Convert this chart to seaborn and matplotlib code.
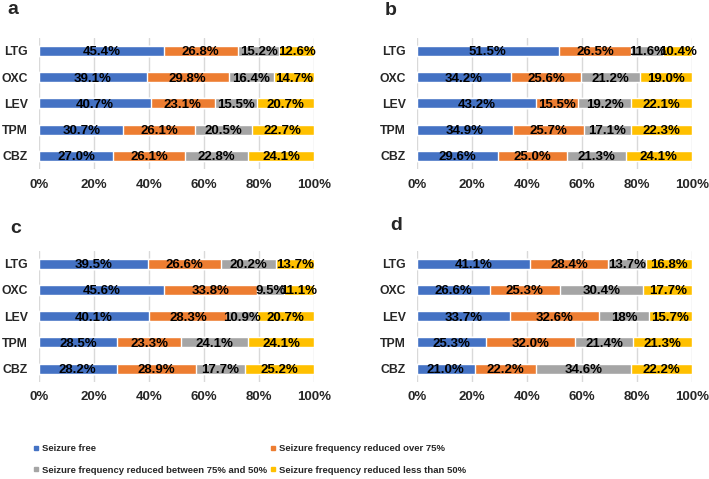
import pandas as pd
import matplotlib.pyplot as plt
import seaborn as sns
from matplotlib.lines import Line2D

drugs = ['LTG', 'OXC', 'LEV', 'TPM', 'CBZ']
categories = ['Seizure free',
              'Seizure frequency reduced over 75%',
              'Seizure frequency reduced between 75% and 50%',
              'Seizure frequency reduced less than 50%']
colors = ['#4472C4', '#ED7D31', '#A5A5A5', '#FFC000']
x_ticks = [0, 20, 40, 60, 80, 100]

# values per drug: [free, >75%, 75-50%, <50%]
panel_a = [[45.4, 26.8, 15.2, 12.6],
           [39.1, 29.8, 16.4, 14.7],
           [40.7, 23.1, 15.5, 20.7],
           [30.7, 26.1, 20.5, 22.7],
           [27.0, 26.1, 22.8, 24.1]]
panel_b = [[51.5, 26.5, 11.6, 10.4],
           [34.2, 25.6, 21.2, 19.0],
           [43.2, 15.5, 19.2, 22.1],
           [34.9, 25.7, 17.1, 22.3],
           [29.6, 25.0, 21.3, 24.1]]
panel_c = [[39.5, 26.6, 20.2, 13.7],
           [45.6, 33.8, 9.5, 11.1],
           [40.1, 28.3, 10.9, 20.7],
           [28.5, 23.3, 24.1, 24.1],
           [28.2, 28.9, 17.7, 25.2]]
panel_d = [[41.1, 28.4, 13.7, 16.8],
           [26.6, 25.3, 30.4, 17.7],
           [33.7, 32.6, 18, 15.7],
           [25.3, 32.0, 21.4, 21.3],
           [21.0, 22.2, 34.6, 22.2]]

sns.set_style('white')
plt.rcParams['font.family'] = ['Liberation Sans', 'DejaVu Sans']
plt.rcParams['font.weight'] = 'bold'


def draw_panel(ax, values):
    rows = []
    for drug, vals in zip(drugs, values):
        start = 0
        for k, v in enumerate(vals):
            rows.append({'drug': drug, 'cat': k, 'value': v, 'label': f'{v}%',
                         'end': start + v, 'mid': start + v / 2})
            start += v
    df = pd.DataFrame(rows)

    # stacked bars: draw cumulative totals from the last segment backwards
    for k in reversed(range(4)):
        sub = df[df['cat'] == k]
        sns.barplot(data=sub, x='end', y='drug', order=drugs, orient='h',
                    color=colors[k], saturation=1, width=0.38, ax=ax, zorder=2)

    for _, r in df.iterrows():
        ax.text(r['mid'], drugs.index(r['drug']), r['label'],
                ha='center', va='center_baseline', fontsize=9.5,
                fontweight='bold', color='black', zorder=3)

    ax.set_xlim(0, 100)
    ax.set_ylim(4.5, -0.5)
    ax.set_xticks(x_ticks)
    ax.set_xticklabels([f'{t}%' for t in x_ticks])
    ax.set_xlabel('')
    ax.set_ylabel('')
    ax.grid(axis='x', color='#D9D9D9', linewidth=1, zorder=0)
    ax.grid(axis='y', visible=False)
    ax.set_axisbelow(True)
    for s in ax.spines.values():
        s.set_visible(False)
    ax.tick_params(axis='x', length=0, pad=7, labelsize=9.5)
    ax.tick_params(axis='y', length=0, pad=8, labelsize=8.8)
    for lbl in ax.get_xticklabels() + ax.get_yticklabels():
        lbl.set_fontweight('bold')


fig = plt.figure(figsize=(7.09, 4.79), dpi=100)
w, h = 0.388, 0.274
positions = {'a': [0.055, 0.647, w, h], 'b': [0.588, 0.647, w, h],
             'c': [0.055, 0.203, w, h], 'd': [0.588, 0.203, w, h]}
data = {'a': panel_a, 'b': panel_b, 'c': panel_c, 'd': panel_d}
letter_pos = {'a': (0.010, 0.971), 'b': (0.543, 0.969),
              'c': (0.015, 0.514), 'd': (0.550, 0.520)}

for key in ['a', 'b', 'c', 'd']:
    ax = fig.add_axes(positions[key])
    draw_panel(ax, data[key])
    fig.text(letter_pos[key][0], letter_pos[key][1], key, fontsize=14,
             fontweight='bold', va='baseline', ha='left')

handles = [Line2D([], [], marker='s', linestyle='', markersize=3.2,
                  color=c) for c in colors]
order = [0, 2, 1, 3]
fig.legend([handles[i] for i in order], [categories[i] for i in order],
           ncol=2, loc='upper left', bbox_to_anchor=(0.047, 0.073),
           frameon=False, prop={'size': 6.8, 'weight': 'bold'},
           handlelength=0.6, handletextpad=0.35, columnspacing=0.3,
           labelspacing=1.35, borderaxespad=0, borderpad=0)

plt.savefig('out.png', dpi=100)
